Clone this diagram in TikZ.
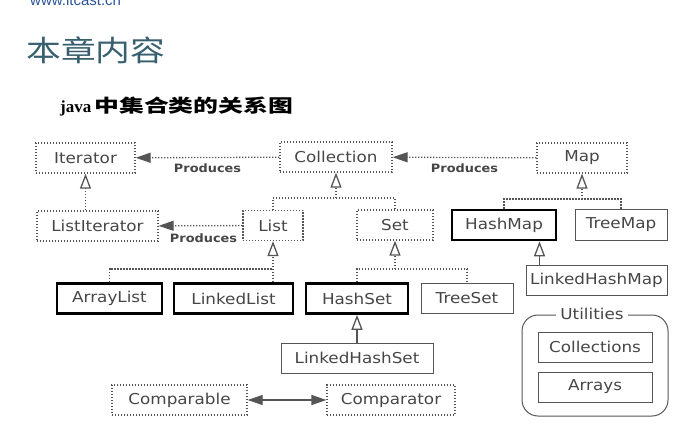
\documentclass[tikz,border=0pt]{standalone}
\usepackage{fontspec}
\usetikzlibrary{arrows.meta,positioning,calc}
\newfontfamily\boxfont[FakeStretch=1.12]{DejaVu Sans}
\newfontfamily\titlefont[FakeStretch=1.2]{Noto Sans CJK SC}
\newfontfamily\headfont[FakeStretch=1.38]{Noto Sans CJK SC}
\newfontfamily\urlfont{Liberation Sans}
\newfontfamily\javafont{Liberation Serif}
\definecolor{urlblue}{RGB}{45,85,150}
\definecolor{titleteal}{RGB}{55,95,110}
\definecolor{boxtext}{RGB}{70,70,70}
\definecolor{boxline}{RGB}{85,85,85}
\tikzset{
  jbox/.style={rectangle, inner sep=3pt, minimum height=30, text=boxtext,
    font=\boxfont\fontsize{15}{18}\selectfont},
  ifcbox/.style={jbox, draw=boxline, line width=1.3pt, dash pattern=on 1.3pt off 1.7pt},
  clsbox/.style={jbox, draw=boxline, line width=1pt},
  implbox/.style={jbox, draw=black, line width=2.6pt},
  dotln/.style={draw=boxline, line width=1.3pt, dash pattern=on 1.3pt off 1.7pt},
  prodln/.style={dotln, -{Triangle[length=15pt,width=10pt]}},
  inhln/.style={dotln, -{Triangle[open,length=15pt,width=11pt,fill=white]}},
  solinh/.style={draw=boxline, line width=1.3pt, -{Triangle[open,length=15pt,width=11pt,fill=white]}},
  prodlbl/.style={text=boxtext, font=\boxfont\bfseries\fontsize{11.5}{13}\selectfont},
}

\begin{document}
\begin{tikzpicture}[x=1pt, y=-1pt]
    \useasboundingbox (0,0) rectangle (695,446);
    \clip (0,0) rectangle (695,446);
    % Slide header
    \node[anchor=base west, inner sep=0pt, text=urlblue,
      font=\urlfont\fontsize{15}{18}\selectfont] (url) at (30,6) {www.itcast.cn};
    \node[anchor=west, inner sep=0pt, text=titleteal,
      font=\titlefont\fontsize{29}{34}\selectfont] (title) at (26,50) {本章内容};
    \node[anchor=west, inner sep=0pt] (head) at (60,107)
      {\javafont\bfseries\fontsize{17}{19}\selectfont java\hspace{3pt}%
       \headfont\bfseries\fontsize{18}{20}\selectfont 中集合类的关系图};
    % Interfaces and classes
    \node[ifcbox, minimum width=99] (itr) at (85.5,158) {Iterator};
    \node[ifcbox, minimum width=112] (coll) at (336,157) {Collection};
    \node[ifcbox, minimum width=90] (map) at (582,158) {Map};
    \node[ifcbox, minimum width=121] (litr) at (97.5,226) {ListIterator};
    \node[ifcbox, minimum width=60] (list) at (273,225.5) {List};
    \node[ifcbox, minimum width=76] (set) at (395,225) {Set};
    \node[implbox, minimum width=104] (hmap) at (504,225) {HashMap};
    \node[clsbox, minimum width=92] (tmap) at (621,225) {TreeMap};
    \node[implbox, minimum width=105] (alist) at (109.5,298.5) {ArrayList};
    \node[implbox, minimum width=119] (llist) at (233.5,298.5) {LinkedList};
    \node[implbox, minimum width=102] (hset) at (357,298.5) {HashSet};
    \node[clsbox, minimum width=92] (tset) at (467,298) {TreeSet};
    \node[clsbox, minimum width=141] (lhmap) at (596.5,280.5) {LinkedHashMap};
    \node[clsbox, minimum width=152] (lhset) at (357,358) {LinkedHashSet};
    \node[ifcbox, minimum width=135] (cmpb) at (179.5,400) {Comparable};
    \node[ifcbox, minimum width=128] (cmpr) at (391,400) {Comparator};
    % Utilities group
    \draw[boxline, line width=1pt, rounded corners=16pt] (522,315) rectangle (668,416);
    \node[jbox, fill=white, minimum height=0pt, inner sep=4pt] (util) at (592,314) {Utilities};
    \node[clsbox, minimum width=114] (colls) at (595,347) {Collections};
    \node[clsbox, minimum width=114] (arrs) at (595,387) {Arrays};
    % Produces
    \draw[prodln] (coll) -- node[prodlbl, below=2pt] {Produces} (itr);
    \draw[prodln] (map) -- node[prodlbl, below=2pt] {Produces} (coll);
    \draw[prodln] (list) -- node[prodlbl, below=4pt, xshift=3pt] {Produces} (litr);
    % Inheritance trees
    \coordinate (cb) at (336,198);
    \coordinate (mb) at (582,199);
    \coordinate (lb) at (273,269);
    \coordinate (sb) at (395,269);
    \draw[inhln] (itr.south |- litr.north) -- (itr.south);
    \draw[dotln] (list.north) |- (cb) -| (set.north);
    \draw[inhln] (cb) -- (coll.south);
    \draw[dotln] (hmap.north) |- (mb) -| (tmap.north);
    \draw[inhln] (mb) -- (map.south);
    \draw[dotln] (alist.north) |- (lb);
    \draw[inhln] (lb |- llist.north) -- (list.south);
    \draw[dotln] (hset.north) |- (sb) -| (tset.north);
    \draw[inhln] (sb) -- (set.south);
    \draw[solinh] (lhset.north) -- (hset.south);
    \draw[solinh] ([xshift=14pt]lhmap.north west) -- ([xshift=14pt]lhmap.north west |- hmap.south);
    % Comparable <-> Comparator
    \draw[boxline, line width=1.3pt, {Triangle[length=15pt,width=10pt]}-{Triangle[length=15pt,width=10pt]}] (cmpb) -- (cmpr);
\end{tikzpicture}
\end{document}
